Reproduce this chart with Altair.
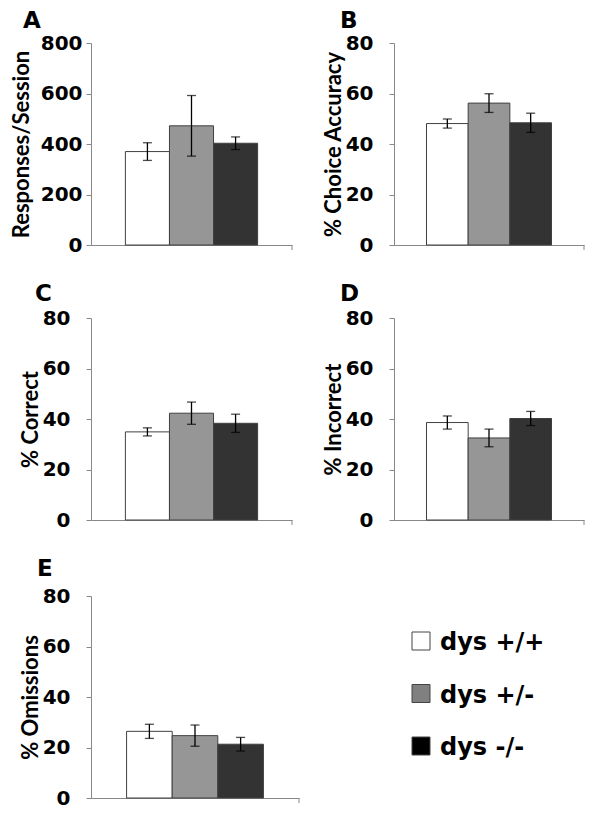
import altair as alt
import pandas as pd

# ---------------- data ----------------
genotypes = ["dys +/+", "dys +/-", "dys -/-"]
bar_colors = ["#ffffff", "#969696", "#333333"]
legend_colors = ["#ffffff", "#808080", "#000000"]

letters = ["A", "B", "C", "D", "E"]
y_titles = ["Responses/Session", "% Choice Accuracy", "% Correct", "% Incorrect", "% Omissions"]
y_max = [800, 80, 80, 80, 80]
y_tick_values = [
    [0, 200, 400, 600, 800],
    [0, 20, 40, 60, 80],
    [0, 20, 40, 60, 80],
    [0, 20, 40, 60, 80],
    [0, 20, 40, 60, 80],
]

responses_mean = [370, 472, 403]
responses_sem = [35, 120, 25]
accuracy_mean = [48.1, 56.2, 48.4]
accuracy_sem = [1.8, 3.7, 3.8]
correct_mean = [34.9, 42.3, 38.3]
correct_sem = [1.6, 4.4, 3.6]
incorrect_mean = [38.6, 32.5, 40.2]
incorrect_sem = [2.6, 3.5, 2.8]
omissions_mean = [26.4, 24.7, 21.3]
omissions_sem = [2.8, 4.2, 2.7]

panel_means = [responses_mean, accuracy_mean, correct_mean, incorrect_mean, omissions_mean]
panel_sems = [responses_sem, accuracy_sem, correct_sem, incorrect_sem, omissions_sem]

# ---------------- style / layout ----------------
AXIS_GREY = "#888888"
LABEL_FONT = "DejaVu Sans"
TITLE_FONT = "Lato"
PLOT_H = 202
panel_widths = [201, 190, 201, 190, 208]
label_pads = [4, 16, 16, 16, 16]
extents = [51, 46, 46, 46, 46]
title_pads = [7, 3, 3, 3, 3]
letter_dx = [-68, -54, -56, -54, -54]
letter_offset = [0, 0, 2, 2, 5]


def make_panel(i):
    df = pd.DataFrame({
        "genotype": genotypes,
        "mean": panel_means[i],
        "sem": panel_sems[i],
    })
    base = alt.Chart(df).transform_calculate(
        lo="datum.mean - datum.sem", hi="datum.mean + datum.sem"
    )
    x = alt.X(
        "genotype:N",
        sort=genotypes,
        scale=alt.Scale(paddingInner=0, paddingOuter=0.78),
        axis=alt.Axis(labels=False, ticks=False, title=None, domainColor=AXIS_GREY,
                      domainWidth=1, minExtent=0, maxExtent=0),
    )
    yscale = alt.Scale(domain=[0, y_max[i]], nice=False)
    bars = base.mark_bar(stroke="#404040", strokeWidth=1).encode(
        x=x,
        y=alt.Y(
            "mean:Q",
            scale=yscale,
            axis=alt.Axis(
                values=y_tick_values[i],
                title=y_titles[i],
                titleFont=TITLE_FONT,
                titleFontSize=22,
                titleFontWeight="bold",
                titleColor="black",
                titlePadding=title_pads[i],
                labelFont=LABEL_FONT,
                labelFontSize=20,
                labelFontWeight="bold",
                labelColor="black",
                labelPadding=label_pads[i],
                labelFlush=False,
                labelOverlap=False,
                tickSize=5,
                tickColor=AXIS_GREY,
                domainColor=AXIS_GREY,
                grid=False,
                minExtent=extents[i],
                maxExtent=extents[i],
            ),
        ),
        fill=alt.Fill("genotype:N", sort=genotypes,
                      scale=alt.Scale(domain=genotypes, range=bar_colors),
                      legend=None),
    )
    rule = base.mark_rule(color="black", strokeWidth=1.3).encode(
        x=alt.X("genotype:N", sort=genotypes),
        y=alt.Y("lo:Q", scale=yscale),
        y2="hi:Q",
    )
    tick_lo = base.mark_tick(color="black", size=9, thickness=1.3, orient="horizontal").encode(
        x=alt.X("genotype:N", sort=genotypes), y=alt.Y("lo:Q", scale=yscale)
    )
    tick_hi = base.mark_tick(color="black", size=9, thickness=1.3, orient="horizontal").encode(
        x=alt.X("genotype:N", sort=genotypes), y=alt.Y("hi:Q", scale=yscale)
    )
    end_tick = alt.Chart(df.head(1)).mark_rule(color=AXIS_GREY, strokeWidth=1).encode(
        x=alt.value(panel_widths[i]), y=alt.value(PLOT_H), y2=alt.value(PLOT_H + 5)
    )
    return alt.layer(bars, rule, tick_lo, tick_hi, end_tick).properties(
        width=panel_widths[i],
        height=PLOT_H,
        title=alt.TitleParams(
            text=letters[i], anchor="start", frame="group", dx=letter_dx[i],
            offset=letter_offset[i], font=LABEL_FONT, fontSize=23, fontWeight="bold",
            color="black",
        ),
    )


panels = [make_panel(i) for i in range(5)]

# ---------------- legend panel ----------------
legend_df = pd.DataFrame({"genotype": genotypes, "swatch": legend_colors})
legend_y = alt.Y("genotype:N", sort=genotypes, axis=None,
                 scale=alt.Scale(type="point", range=[45, 150], padding=0))
legend_boxes = alt.Chart(legend_df).mark_square(
    size=324, opacity=1, stroke="#444444", strokeWidth=1
).encode(
    x=alt.value(27),
    y=legend_y,
    fill=alt.Fill("swatch:N", scale=None, legend=None),
)
legend_text = alt.Chart(legend_df).mark_text(
    align="left", baseline="middle", dy=2, font=LABEL_FONT, fontSize=24,
    fontWeight="bold", color="black"
).encode(
    x=alt.value(46),
    y=legend_y,
    text="genotype:N",
)
legend_panel = alt.layer(legend_boxes, legend_text).properties(width=190, height=PLOT_H)

chart = alt.concat(*panels, legend_panel, columns=2,
                   spacing={"row": 28, "column": 22}).properties(
    padding={"left": 2, "top": 2, "right": 0, "bottom": 0}
).configure(background="white").configure_view(strokeWidth=0)

chart.save("out.html", embed_options={"renderer": "svg", "actions": False})
